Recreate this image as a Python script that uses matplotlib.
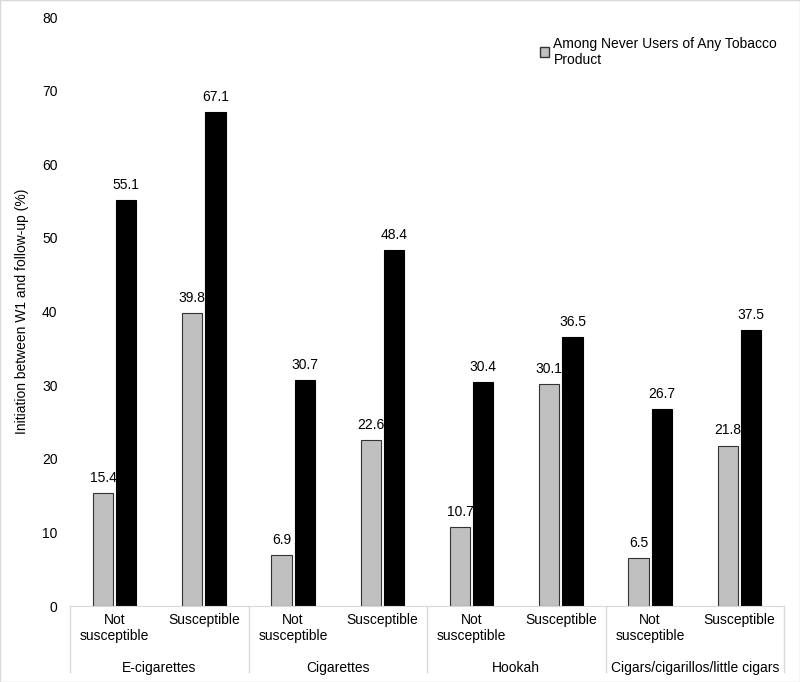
import matplotlib.pyplot as plt
from matplotlib.patches import Patch
import numpy as np

plt.rcParams['font.family'] = ['Liberation Sans', 'DejaVu Sans']

# Data
groups = ['E-cigarettes', 'Cigarettes', 'Hookah', 'Cigars/cigarillos/little cigars']
subcats = ['Not\nsusceptible', 'Susceptible']
never_any = [15.4, 39.8, 6.9, 22.6, 10.7, 30.1, 6.5, 21.8]
never_product = [55.1, 67.1, 30.7, 48.4, 30.4, 36.5, 26.7, 37.5]

fs = 10

fig = plt.figure(figsize=(8, 6.82), dpi=100)
ax = fig.add_axes([0.0875, 0.1114, 0.8925, 0.8636])

x = np.arange(len(never_any)) + 0.5
w = 0.225
off = 0.13
ax.bar(x - off, never_any, w, color='#c0c0c0', edgecolor='#333333', linewidth=0.8)
ax.bar(x + off, never_product, w, color='black', edgecolor='black', linewidth=0.8)

for xi, v in zip(x - off, never_any):
    ax.text(xi, v + 1.1, f'{v:.1f}', ha='center', va='bottom', fontsize=fs)
for xi, v in zip(x + off, never_product):
    ax.text(xi, v + 1.1, f'{v:.1f}', ha='center', va='bottom', fontsize=fs)

ax.set_xlim(0, 8)
ax.set_ylim(0, 80)
ax.set_yticks(np.arange(0, 81, 10))
ax.tick_params(axis='y', length=0, labelsize=fs, pad=9)
ax.set_xticks([])
for s in ['top', 'right', 'left']:
    ax.spines[s].set_visible(False)
ax.spines['bottom'].set_color('#d9d9d9')
ax.set_ylabel('Initiation between W1 and follow-up (%)', fontsize=fs, labelpad=9)

# category labels
tr = ax.get_xaxis_transform()
for i, xi in enumerate(x):
    ax.text(xi, -0.012, subcats[i % 2], transform=tr, ha='center', va='top',
            fontsize=fs, linespacing=1.15)
for g, name in enumerate(groups):
    ax.text(2 * g + 1, -0.094, name, transform=tr, ha='center', va='top', fontsize=fs)
for g in range(len(groups) + 1):
    ax.plot([2 * g, 2 * g], [0, -0.112], transform=tr, color='#d9d9d9',
            linewidth=1, clip_on=False)

ax.legend(handles=[Patch(facecolor='#c0c0c0', edgecolor='#333333',
                         label='Among Never Users of Any Tobacco\nProduct')],
          loc='upper right', bbox_to_anchor=(1.008, 0.988), frameon=False,
          fontsize=fs, handlelength=0.7, handleheight=0.7, handletextpad=0.3)

fig.patches.append(plt.Rectangle((0, 0), 1, 1, transform=fig.transFigure,
                                 fill=False, edgecolor='#d9d9d9', linewidth=1))

fig.savefig('out.png', dpi=100)
